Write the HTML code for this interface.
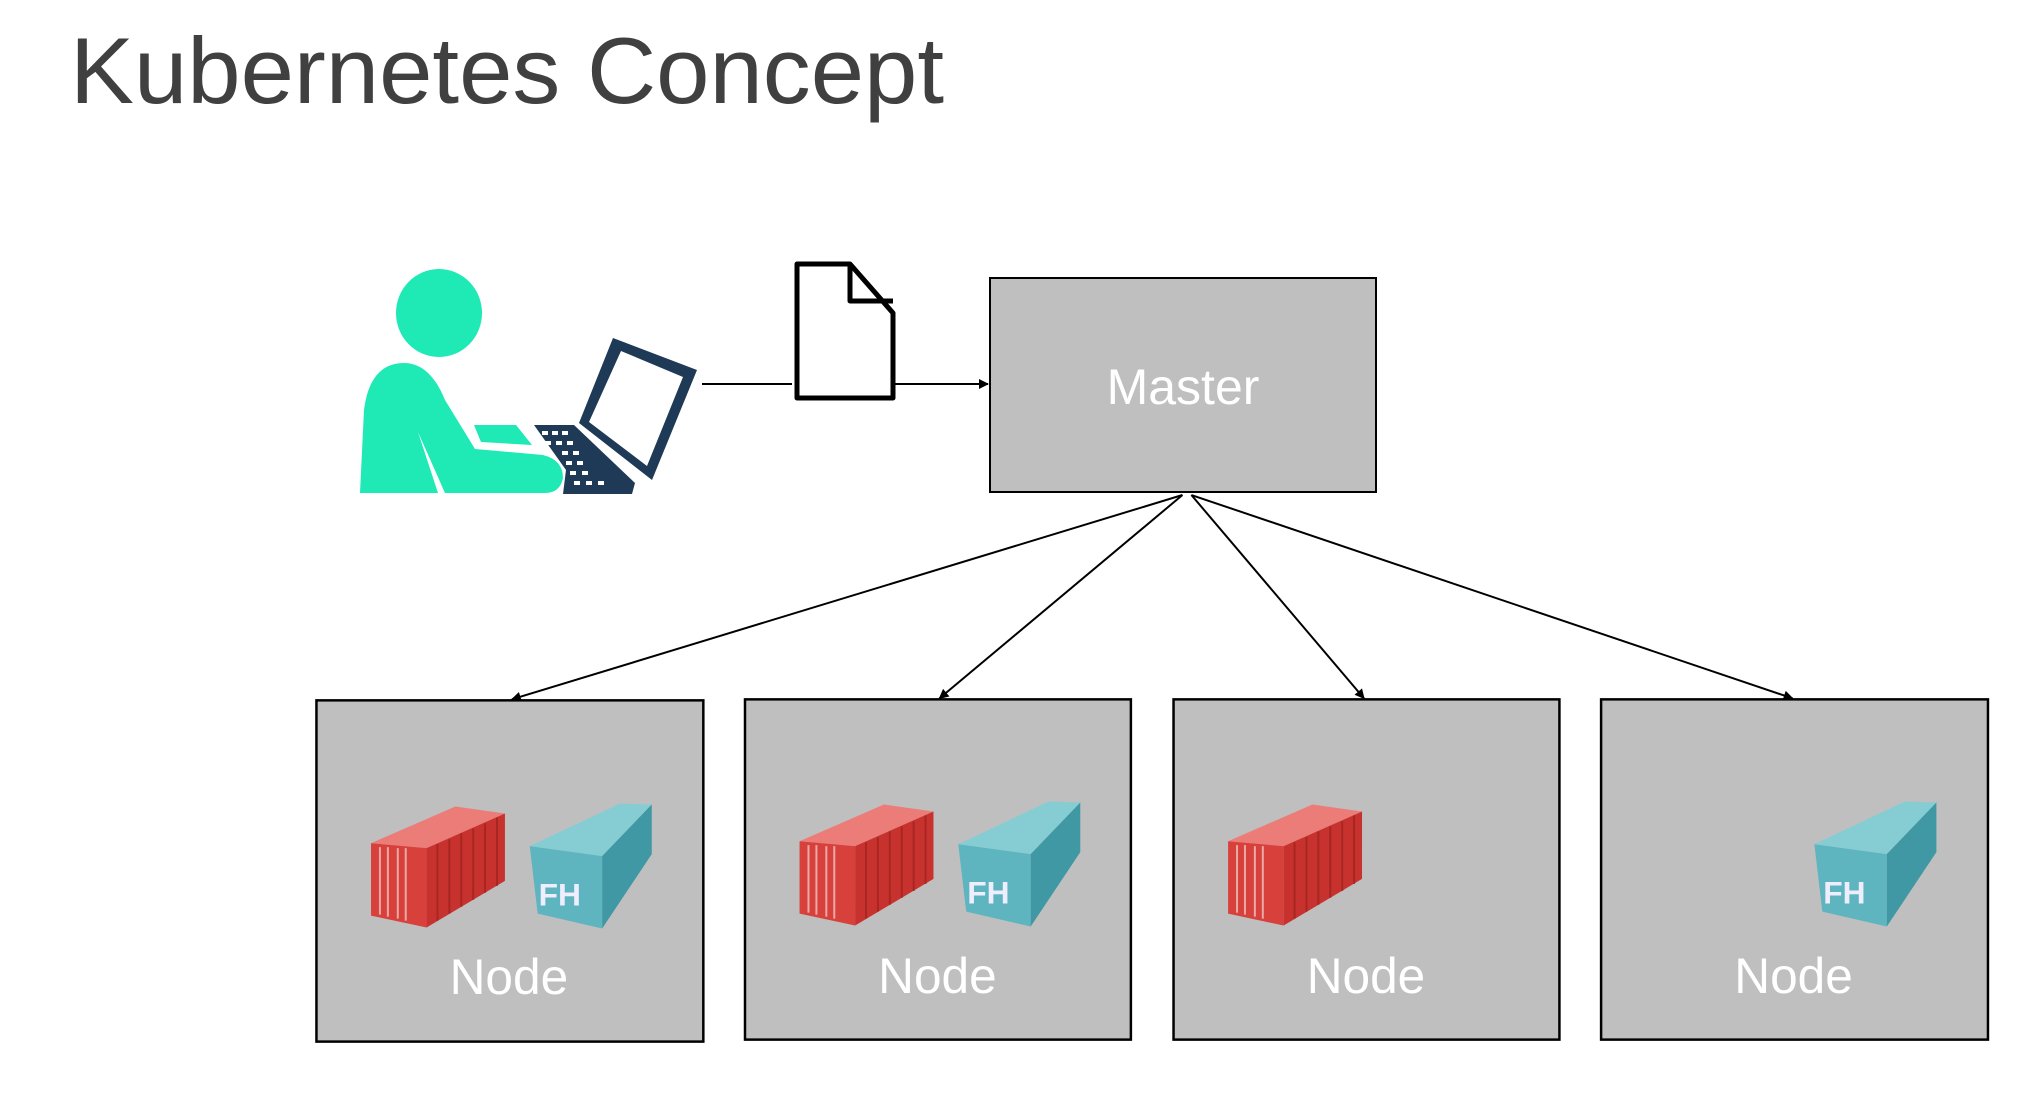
<!DOCTYPE html>
<html><head><meta charset="utf-8"><style>
html,body{margin:0;padding:0;background:#fff;}
svg{display:block;}
</style></head><body>
<svg width="2042" height="1098" viewBox="0 0 2042 1098" xmlns="http://www.w3.org/2000/svg">
<defs>
<marker id="ah" markerWidth="10" markerHeight="10" refX="9" refY="5" orient="auto" markerUnits="userSpaceOnUse">
<path d="M0,0 L10,5 L0,10 Z" fill="#000"/>
</marker>
<g id="red">
<polygon points="53,842 138,805 188,812 109,847" fill="#ec7c78"/>
<polygon points="53,842 109,847 109,927 53,915" fill="#d8403b"/>
<polygon points="109,847 188,812 188,880 109,927" fill="#c8322e"/>
<g stroke="#e9a9a6" stroke-width="2">
<line x1="62" y1="846" x2="62" y2="914"/><line x1="70" y1="846" x2="70" y2="916"/>
<line x1="80" y1="847" x2="80" y2="918"/><line x1="88" y1="847" x2="88" y2="920"/>
</g>
<g stroke="#a82622" stroke-width="2">
<line x1="120" y1="843" x2="120" y2="920"/><line x1="132" y1="838" x2="132" y2="913"/>
<line x1="144" y1="832" x2="144" y2="906"/><line x1="156" y1="827" x2="156" y2="899"/>
<line x1="168" y1="822" x2="168" y2="892"/><line x1="180" y1="816" x2="180" y2="885"/>
</g>
</g>
<g id="teal">
<polygon points="213,845 304,802 336,803 286,855" fill="#86cdd3"/>
<polygon points="213,845 286,855 286,928 221,913" fill="#5fb5bf"/>
<polygon points="286,855 336,803 336,853 286,928" fill="#3f98a3"/>
<text x="222" y="905" font-family="Liberation Sans, sans-serif" font-weight="bold" font-size="32" fill="#eef">FH</text>
</g>
</defs>

<text x="70" y="103" font-family="Liberation Sans, sans-serif" font-size="94" fill="#404040" textLength="874" lengthAdjust="spacingAndGlyphs">Kubernetes Concept</text>

<!-- person -->
<ellipse cx="439" cy="313" rx="43" ry="44" fill="#1fe9b4"/>
<path d="M360,493 L364,410 Q370,363 404,363 Q430,363 445,400 L475,449 L543,455 Q563,460 563,478 Q560,493 545,493 L445,493 L418,432 L438,493 Z" fill="#1fe9b4"/>
<polygon points="474,425 516,425 532,445 481,442" fill="#1fe9b4"/>
<!-- laptop -->
<path d="M613,338 L697,370 L652,480 L579,423 Z M621,351 L683,377 L647,466 L589,422 Z" fill="#1e3a56" fill-rule="evenodd"/>
<polygon points="534,425 574,425 635,483 632,494 563,494 566,470" fill="#1e3a56"/>
<g fill="#fff">
<rect x="542" y="431" width="6" height="4"/><rect x="552" y="431" width="6" height="4"/><rect x="562" y="431" width="6" height="4"/>
<rect x="545" y="441" width="6" height="4"/><rect x="556" y="441" width="6" height="4"/><rect x="567" y="441" width="6" height="4"/>
<rect x="562" y="451" width="6" height="4"/><rect x="573" y="451" width="6" height="4"/>
<rect x="566" y="461" width="6" height="4"/><rect x="577" y="461" width="6" height="4"/>
<rect x="570" y="471" width="6" height="4"/><rect x="582" y="471" width="6" height="4"/>
<rect x="574" y="481" width="6" height="4"/><rect x="586" y="481" width="6" height="4"/><rect x="598" y="481" width="6" height="4"/>
</g>

<!-- doc + arrow -->
<line x1="702" y1="384" x2="792" y2="384" stroke="#000" stroke-width="2"/>
<line x1="894" y1="384" x2="988" y2="384" stroke="#000" stroke-width="2" marker-end="url(#ah)"/>
<path d="M797,264 L850,264 L893,313 L893,398 L797,398 Z" fill="#fff" stroke="#000" stroke-width="5" stroke-linejoin="round"/>
<path d="M850,264 L850,301 L893,301" fill="none" stroke="#000" stroke-width="5" stroke-linejoin="round"/>

<!-- master -->
<rect x="990" y="278" width="386" height="214" fill="#bfbfbf" stroke="#000" stroke-width="2"/>
<text x="1183" y="404" text-anchor="middle" font-family="Liberation Sans, sans-serif" font-size="50" fill="#fff">Master</text>

<g transform="scale(0.992)">
<!-- arrows -->
<g stroke="#000" stroke-width="2" marker-end="url(#ah)">
<line x1="1192" y1="499" x2="516" y2="705"/>
<line x1="1192" y1="499" x2="947" y2="704"/>
<line x1="1201" y1="499" x2="1375" y2="704"/>
<line x1="1201" y1="499" x2="1807" y2="704"/>
</g>

<!-- nodes -->
<g font-family="Liberation Sans, sans-serif" font-size="50" fill="#fff" text-anchor="middle">
<rect x="319" y="706" width="390" height="344" fill="#bfbfbf" stroke="#000" stroke-width="2.5"/>
<rect x="751" y="705" width="389" height="343" fill="#bfbfbf" stroke="#000" stroke-width="2.5"/>
<rect x="1183" y="705" width="389" height="343" fill="#bfbfbf" stroke="#000" stroke-width="2.5"/>
<rect x="1614" y="705" width="390" height="343" fill="#bfbfbf" stroke="#000" stroke-width="2.5"/>
<text x="513" y="1002">Node</text>
<text x="945" y="1001">Node</text>
<text x="1377" y="1001">Node</text>
<text x="1808" y="1001">Node</text>
</g>
<use href="#red" x="321" y="8"/><use href="#teal" x="321" y="8"/>
<use href="#red" x="753" y="6"/><use href="#teal" x="753" y="6"/>
<use href="#red" x="1185" y="6"/>
<use href="#teal" x="1616" y="6"/>
</g>
</svg>
</body></html>
